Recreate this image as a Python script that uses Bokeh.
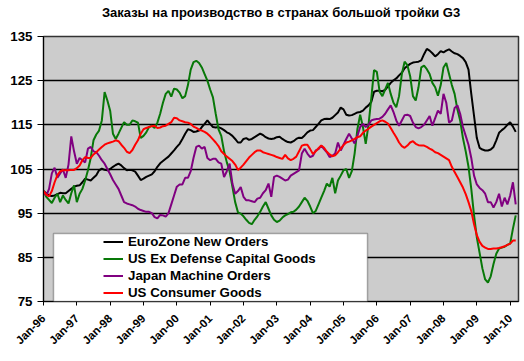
import math
from bokeh.plotting import figure
from bokeh.models import Range1d, FixedTicker, Legend, LegendItem, BoxAnnotation, Title
from bokeh.embed import file_html
from bokeh.resources import INLINE

title_text = "Заказы на производство в странах большой тройки G3"
tick_labels = ["Jan-96", "Jan-97", "Jan-98", "Jan-99", "Jan-00", "Jan-01", "Jan-02",
               "Jan-03", "Jan-04", "Jan-05", "Jan-06", "Jan-07", "Jan-08", "Jan-09", "Jan-10"]
y_ticks = [75, 85, 95, 105, 115, 125, 135]
series_names = ["EuroZone New Orders", "US Ex Defense Capital Goods",
                "Japan Machine Orders", "US Consumer Goods"]
series_colors = ["#000000", "#087808", "#800080", "#FF0000"]

# monthly values, Jan-96 .. Mar-10
eurozone = [
    100, 99.5, 99, 98.9, 99, 99.3, 99.6, 99.5, 99.5, 100, 100.5, 101,
    101.2, 101.3, 102, 102.8, 102.6, 102.4, 103, 103.6, 104.7, 105.1, 104.8, 104.7,
    105, 105.5, 105.9, 106.2, 105.8, 105.2, 104.7, 104.8, 104.7, 104.4, 103.5, 102.5,
    102.8, 103.2, 103.5, 103.8, 104.5, 105.5, 106.3, 106.8, 107.3, 107.8, 108.5, 109.2,
    110, 110.7, 111.8, 113, 114, 113.8, 113.4, 113.5, 113.7, 114.5, 115.2, 116,
    115.2, 114.5, 114.4, 114.5, 114.2, 113.8, 113.3, 113, 112.5, 111.8, 111, 111,
    111.8, 112, 111.6, 111.8, 112.2, 112.6, 113, 112.7, 112.2, 111.9, 111.8, 111.9,
    112.2, 112.3, 111.8, 111.4, 111.1, 111, 111.3, 111.8, 112.1, 112, 112.6, 113.3,
    113.7, 113.8, 114.5, 115.2, 116, 116.3, 116.4, 116.3, 116.6, 117.2, 117.8, 118.9,
    118.5, 117.3, 117.1, 117.2, 117.5, 117.8, 117.9, 118.2, 118.9, 119.4, 120.2, 122.5,
    122.7, 122.7, 122.6, 122.9, 123.7, 124.5, 125.1, 125.5, 126.2, 126.8, 127.8, 128.3,
    128.8, 129.1, 129.2, 129.3, 129.6, 131, 132.2, 131.8, 131.2, 130.5, 131, 131.7,
    131.4, 131.8, 132.1, 131.6, 131.2, 131, 130.6, 130.1, 129.2, 127.5, 122, 117,
    112, 109.8, 109.4, 109.2, 109.2, 109.4, 110, 111.5, 113.2, 113.8, 114.3, 115,
    115.6, 114.6, 113.4,
]
us_capital = [
    100, 98.7, 98, 97.3, 98.5, 99.4, 97.5, 99, 98, 97.2, 99.5, 101.3,
    97.5, 99.4, 100.5, 102.4, 104.7, 107.5, 111.5, 112.8, 113.7, 116, 122.4, 120.5,
    118.2, 113, 111.8, 113, 114.3, 115.6, 115, 115, 116, 115.8, 115.5, 112,
    112.5, 113.3, 114.5, 114.8, 114.3, 115.5, 117.5, 120, 122, 122.7, 121.4, 123.2,
    123, 122.3, 121, 121.5, 124, 127.5, 129.2, 129.5, 129, 128, 126.5, 125,
    123, 121.2, 117.5, 114, 112.5, 109, 106.5, 104.5, 101, 97.5, 95.2, 94.9,
    94.3, 93.5, 92.8, 92.5, 93.5, 94.3, 95.3, 96.5, 97.5, 96, 94.5, 93.5,
    93, 93.3, 94, 94.5, 94.8, 95.2, 95.3, 95.8, 96.5, 97.5, 98.5, 97.8,
    96.5, 95, 95.5, 97, 98.5, 100, 101.7, 101, 103, 99.5, 102.4, 103.5,
    104.7, 105, 103, 104.5, 108.5, 114, 117.3, 114.5, 110.7, 115, 121, 127.4,
    127, 122.5, 121.5, 123, 124.5, 122, 120, 119, 121.5, 126.5, 129.3, 128.5,
    126, 121.5, 120.5, 123.5, 128, 128.4, 127.6, 126.5, 124.5, 123.5, 121.6, 124,
    128, 129, 126.5, 124, 122, 118.5, 116, 112, 109, 105.5, 100.5, 94.5,
    89.5, 86, 82.5, 80, 79.3, 80.7, 83.5, 85.8, 87, 87.2, 87.4, 87.8,
    88.1, 91.5, 94.5,
]
japan = [
    100, 99, 100.5, 104, 105.3, 103, 104, 104.9, 103, 106, 112.4, 109,
    106.2, 107.5, 107, 106.5, 109.6, 110, 109, 108.8, 108, 107, 106.2, 105,
    103.8, 102.5, 101.5, 100.5, 99, 97.5, 97.2, 97, 96.8, 96.5, 96, 95.7,
    95.5, 95.3, 95.3, 95, 94.1, 93.8, 94.6, 94.5, 94.2, 95, 97, 99,
    101, 101.5, 101.5, 103, 103, 104.5, 107.5, 110, 110.3, 109.6, 110, 107.5,
    107, 107.3, 107.3, 106.5, 106.2, 103.2, 104.5, 106.2, 101.7, 99.4, 100, 100.9,
    98.7, 97.9, 97.9, 97.7, 97.5, 98.3, 98.5, 99.5, 100.2, 101.7, 98.7, 103.2,
    103.5, 103.2, 102.8, 102.4, 102.6, 103.5, 103.9, 104.3, 104.7, 108.5, 109.6, 108.5,
    107.7, 108, 109.2, 109.5, 110.3, 109.5, 108.8, 107.7, 108, 108.5, 111, 109.2,
    110.5, 111.8, 113, 111.9, 110.8, 112.5, 114.5, 115.2, 114.5, 115, 116, 116.2,
    116.3, 116.4, 116.8, 117.5, 118.5, 119.4, 117.9, 116, 114.8, 116, 117.2, 117.3,
    117, 115.5, 114.5, 114.2, 114.5, 115, 116, 117, 114.8, 116.5, 118.2, 117.5,
    122, 120, 115.5, 116, 118.8, 119.4, 117.5, 114.5, 112.5, 110.5, 107.5, 103.5,
    101.5, 100.7, 100.2, 99.4, 97.5, 97.5, 96.3, 97.5, 99.4, 96.5, 98.5, 97,
    99, 102, 97,
]
us_consumer = [
    100, 99.2, 98.8, 100, 102, 103.6, 104.5, 104.7, 104.7, 104.7, 104.8, 104.8,
    105.2, 105.8, 107, 107.7, 107.5, 107.5, 108.3, 108.8, 109.4, 110, 110.5, 110.8,
    111, 111.2, 111.5, 111.3, 110.5, 109.8, 108.9, 108.6, 109.3, 110.5, 111.5, 113,
    114, 114.3, 114.5, 114.7, 114.8, 114.3, 114.4, 114.7, 114.8, 115.2, 115.6, 116.6,
    116.5, 116, 115.8, 115.6, 115.5, 115.2, 114.6, 114.3, 113.9, 113.7, 113.4, 113,
    112.4, 111.7, 111, 110.2, 109, 108.4, 107.8, 107.3, 106.8, 106, 104.8, 105.3,
    106, 106.8, 107.6, 108.2, 108.8, 109.2, 109.2, 108.8, 108.6, 108.4, 108.2, 108,
    107.7, 107.5, 107.3, 108.2, 107.4, 107, 107.3, 107.8, 109, 110.3, 110.5, 110.5,
    109.5, 108.4, 109, 109.7, 110.3, 109.8, 108.9, 108.3, 107.9, 108.1, 108.8, 109.6,
    110.4, 111, 111.2, 111.5, 111.8, 112.2, 112.4, 113.2, 113.7, 114.1, 114.6, 115,
    115.4, 115.8, 116, 115.7, 115.3, 114.3, 113.2, 112.2, 111, 110.2, 109.8, 110.3,
    111, 111.3, 110.7, 110.4, 110.3, 110.3, 110, 109.6, 109.3, 108.8, 108.6, 108.2,
    107.8, 107.4, 107, 105.5, 104.3, 103.2, 102, 100.8, 99.3, 97.5, 95.5, 92.5,
    90, 88.5, 87.6, 87.2, 86.9, 86.9, 87, 87, 87.1, 87.3, 87.5, 87.8,
    88.1, 88.8, 88.8,
]

series = [eurozone, us_capital, japan, us_consumer]
months = list(range(len(eurozone)))
tick_months = [12 * i for i in range(len(tick_labels))]

FONT = "Liberation Sans"

# layout (pixels)
W, H = 520, 355
FRAME_L, FRAME_R, FRAME_T, FRAME_B = 43, 518, 36, 301
X0, X1 = 0, 171
Y0, Y1 = 75, 135


def px_to_x(px):
    return X0 + (px - FRAME_L) * (X1 - X0) / (FRAME_R - FRAME_L)


def py_to_y(py):
    return Y1 - (py - FRAME_T) * (Y1 - Y0) / (FRAME_B - FRAME_T)


p = figure(width=W, height=H, output_backend="svg", toolbar_location=None, title=None,
           x_range=Range1d(X0, X1), y_range=Range1d(Y0, Y1),
           min_border_left=FRAME_L, min_border_right=W - FRAME_R,
           min_border_top=FRAME_T, min_border_bottom=H - FRAME_B)

# empty spacer between frame and title, then the title itself (stacked outward)
p.add_layout(Title(text=" ", text_font=FONT, text_font_size="13px", standoff=0), "above")
p.add_layout(Title(text=title_text, text_font=FONT, text_font_size="13px",
                   text_font_style="bold", text_color="#000000",
                   align="center", offset=-10, standoff=0), "above")

p.background_fill_color = "#CCCCCC"
p.border_fill_color = "white"
p.outline_line_color = "#333333"
p.outline_line_width = 1.5

p.xgrid.visible = False
p.ygrid.grid_line_color = "black"
p.ygrid.grid_line_width = 1.3

p.yaxis.ticker = FixedTicker(ticks=y_ticks)
p.yaxis.major_label_text_font = FONT
p.yaxis.major_label_text_font_size = "13.3px"
p.yaxis.major_label_text_font_style = "bold"
p.yaxis.major_label_text_color = "black"
p.yaxis.major_tick_out = 6
p.yaxis.major_tick_in = 0
p.yaxis.minor_tick_out = 0
p.yaxis.minor_tick_in = 0
p.yaxis.axis_line_color = "black"
p.yaxis.major_tick_line_color = "black"
p.yaxis.major_label_standoff = 5

p.xaxis.ticker = FixedTicker(ticks=tick_months)
p.xaxis.major_label_overrides = {m: lab for m, lab in zip(tick_months, tick_labels)}
p.xaxis.major_label_orientation = math.pi / 4
p.xaxis.major_label_text_font = FONT
p.xaxis.major_label_text_font_size = "11.5px"
p.xaxis.major_label_text_font_style = "bold"
p.xaxis.major_label_text_color = "black"
p.xaxis.major_tick_out = 4
p.xaxis.major_tick_in = 0
p.xaxis.minor_tick_out = 0
p.xaxis.minor_tick_in = 0
p.xaxis.axis_line_color = "black"
p.xaxis.major_tick_line_color = "black"
p.xaxis.major_label_standoff = 11

renderers = []
for vals, color in zip(series, series_colors):
    r = p.line(months, vals, line_color=color, line_width=2)
    renderers.append(r)

# white legend box (Excel style, content centred with wide side margins)
box = BoxAnnotation(left=px_to_x(53), right=px_to_x(367), top=py_to_y(233),
                    fill_color="white", fill_alpha=1.0,
                    line_color="black", line_width=1.5)
p.add_layout(box)

legend = Legend(items=[LegendItem(label=n, renderers=[r]) for n, r in zip(series_names, renderers)],
                location=(103 - FRAME_L, 0), padding=0, spacing=0, margin=0,
                glyph_width=20, glyph_height=17, label_height=17, label_standoff=5,
                border_line_alpha=0, background_fill_alpha=0,
                label_text_font=FONT, label_text_font_size="13.3px",
                label_text_font_style="bold", label_text_color="black")
p.add_layout(legend)

open("out.html", "w").write(file_html(p, INLINE))
